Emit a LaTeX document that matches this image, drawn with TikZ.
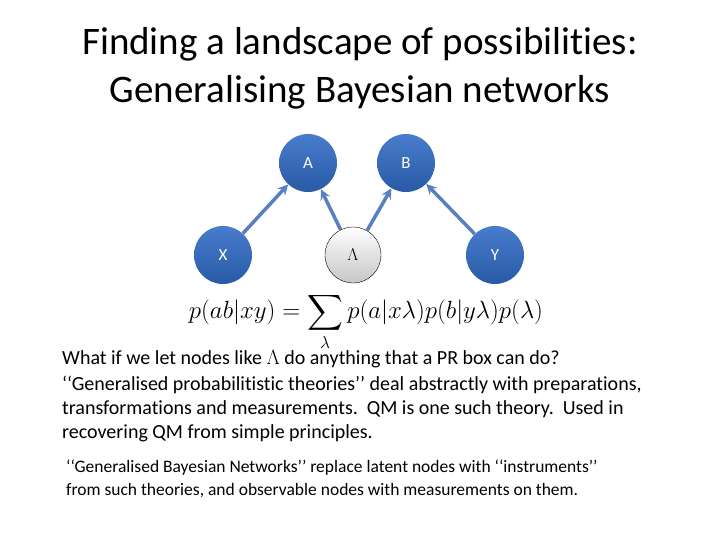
\documentclass[tikz,border=0pt]{standalone}
\usepackage{amsmath}
\usepackage{fontspec}
\setmainfont{Carlito}[Ligatures=NoCommon]
\newcommand{\bq}{\symbol{96}\symbol{96}}
\begin{document}
\begin{tikzpicture}[x=1pt,y=-1pt,
 bnode/.style={circle,minimum size=58pt,inner sep=0pt,top color={rgb,255:red,72;green,125;blue,205},bottom color={rgb,255:red,40;green,90;blue,165},draw=none,text=white,font=\fontsize{17}{20}\selectfont},
 lnode/.style={circle,minimum size=56pt,inner sep=0pt,top color=white,bottom color=gray!45,draw=black,font=\fontsize{17}{20}\selectfont},
 arr/.style={draw={rgb,255:red,88;green,128;blue,192},line width=3.5pt,-stealth},
 txt/.style={anchor=west,inner sep=0pt,font=\fontsize{20}{24}\selectfont}]
\useasboundingbox (0,0) rectangle (720,540);
\node[align=center,font=\fontsize{39}{48}\selectfont] (title) at (360,68) {Finding a landscape of possibilities:\\Generalising Bayesian networks};
\node[bnode] (A) at (308,163) {A};
\node[bnode] (B) at (406,163) {B};
\node[bnode] (X) at (223,255) {X};
\node[lnode] (L) at (353,255) {$\Lambda$};
\node[bnode] (Y) at (495,255) {Y};
\draw[arr] (X) -- (A);
\draw[arr] (L) -- (A);
\draw[arr] (L) -- (B);
\draw[arr] (Y) -- (B);
\node[font=\fontsize{25}{30}\selectfont] (eq) at (366,322) {$\displaystyle p(ab|xy)=\sum_\lambda p(a|x\lambda)p(b|y\lambda)p(\lambda)$};
\node[txt] (t1) at (62,359) {What if we let nodes like $\Lambda$ do anything that a PR box can do?};
\node[txt,align=left,anchor=north west,font=\fontsize{20}{24}\selectfont] (t2) at (62,376) {\bq Generalised probabilitistic theories’’ deal abstractly with preparations,\\transformations and measurements.\ \ QM is one such theory.\ \ Used in\\recovering QM from simple principles.};
\node[txt,align=left,anchor=north west,font=\fontsize{17.5}{23}\selectfont] (t3) at (66,460) {\bq Generalised Bayesian Networks’’ replace latent nodes with \bq instruments’’\\from such theories, and observable nodes with measurements on them.};
\end{tikzpicture}
\end{document}
